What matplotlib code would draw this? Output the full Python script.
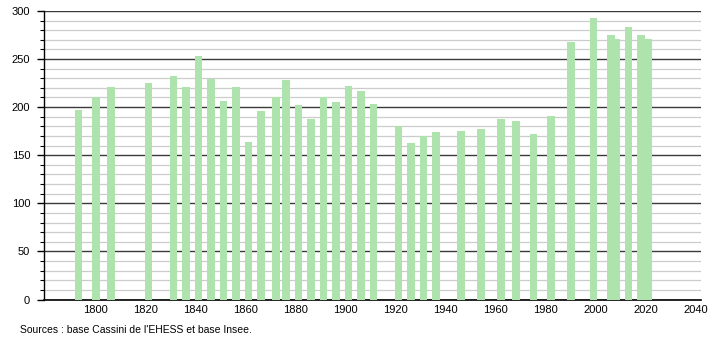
import matplotlib
matplotlib.use("Agg")
import matplotlib.pyplot as plt
import matplotlib.ticker as mticker

# census years and population
years = [1793, 1800, 1806, 1821, 1831, 1836, 1841, 1846, 1851, 1856,
         1861, 1866, 1872, 1876, 1881, 1886, 1891, 1896, 1901, 1906,
         1911, 1921, 1926, 1931, 1936, 1946, 1954, 1962, 1968, 1975,
         1982, 1990, 1999, 2006, 2008, 2013, 2018, 2021]
population = [197, 210, 221, 225, 232, 221, 253, 229, 206, 221,
              164, 196, 210, 228, 202, 188, 210, 205, 222, 217,
              203, 180, 163, 170, 174, 175, 177, 188, 186, 172,
              191, 268, 293, 275, 271, 283, 275, 271]
x_ticks = [1800, 1820, 1840, 1860, 1880, 1900, 1920, 1940, 1960, 1980, 2000, 2020, 2040]
source_text = "Sources : base Cassini de l'EHESS et base Insee."

plt.rcParams['font.family'] = ['Liberation Sans', 'DejaVu Sans']

fig = plt.figure(figsize=(7.1, 3.4), dpi=100)
ax = fig.add_axes([0.062, 0.119, 0.925, 0.849])

ax.bar(years, population, width=3, color='#aee3ae', zorder=3)

ax.set_xlim(1779.3, 2042)
ax.set_ylim(0, 300)

# grid: dark every 50, light every 10
ax.yaxis.set_major_locator(mticker.MultipleLocator(50))
ax.yaxis.set_minor_locator(mticker.MultipleLocator(10))
ax.grid(which='major', axis='y', color='#3a3a3a', linewidth=1.0, zorder=1)
ax.grid(which='minor', axis='y', color='#cccccc', linewidth=0.9, zorder=0)

ax.set_xticks(x_ticks)
ax.tick_params(axis='x', length=0, pad=4, labelsize=8)
ax.tick_params(axis='y', which='major', length=5, width=1, pad=5, labelsize=8)
ax.tick_params(axis='y', which='minor', length=3, width=0.8)

for s in ['top', 'right']:
    ax.spines[s].set_visible(False)
ax.spines['left'].set_color('black')
ax.spines['bottom'].set_color('black')
ax.spines['left'].set_linewidth(1.0)
ax.spines['bottom'].set_linewidth(1.2)

fig.text(20 / 710, 1 - 330 / 340, source_text, fontsize=7.5, ha='left', va='center')

plt.savefig("out.png", dpi=100)
plt.close(fig)
